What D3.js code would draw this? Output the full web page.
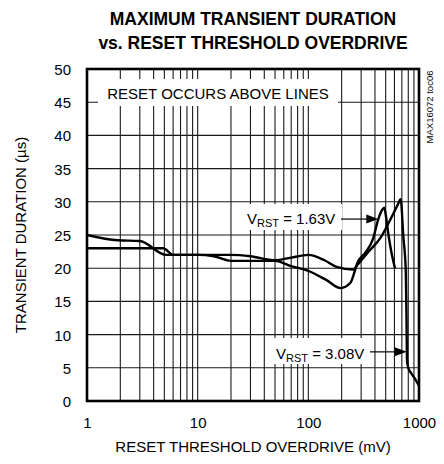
<!DOCTYPE html>
<html><head><meta charset="utf-8">
<script src="https://cdn.jsdelivr.net/npm/d3@7/dist/d3.min.js"></script>
<style>
html,body{margin:0;padding:0;background:#fff;}
text{font-family:"Liberation Sans",Arial,Helvetica,sans-serif;fill:#000;}
</style></head>
<body>
<script>
// ---- data ----
const xTickLabels = [1, 10, 100, 1000];
const yTickLabels = [0, 5, 10, 15, 20, 25, 30, 35, 40, 45, 50];

const v163_mV = [1, 1.9, 3.0, 5.2, 10, 14, 20, 30, 50, 70, 100, 146, 196, 240, 281, 330, 384, 429, 470, 486, 505, 530, 565, 607];
const v163_us = [25, 24.2, 24.1, 22, 22, 21.8, 21.1, 21.1, 21.1, 20.3, 19.6, 18.2, 17.0, 17.8, 21.0, 22.4, 24.4, 27.4, 28.9, 29.1, 27.6, 25, 22.3, 20];

const v308_mV = [1, 4.9, 6.0, 10, 20, 30, 50, 70, 100, 140, 180, 254, 281, 350, 450, 550, 640, 683, 720, 760, 772, 778, 800, 840, 900, 1000];
const v308_us = [23, 23, 22, 22, 22, 21.8, 21.2, 21.6, 22, 21.2, 20.2, 19.8, 20.6, 22.5, 24.6, 27.3, 29.5, 30.4, 25, 19.5, 12, 6.2, 5.0, 4.3, 3.6, 2.3];

// ---- layout ----
const W = 444, H = 464;
const L = 87, R = 419, T = 69, B = 401;

const svg = d3.select("body").append("svg").attr("width", W).attr("height", H);

const x = d3.scaleLog().domain([1, 1000]).range([L, R]);
const y = d3.scaleLinear().domain([0, 50]).range([B, T]);

// title
svg.append("text").attr("x", 253).attr("y", 25).attr("text-anchor", "middle")
  .style("font-weight", "bold").style("font-size", "17.5px").text("MAXIMUM TRANSIENT DURATION");
svg.append("text").attr("x", 253).attr("y", 48.5).attr("text-anchor", "middle")
  .style("font-weight", "bold").style("font-size", "17.5px").text("vs. RESET THRESHOLD OVERDRIVE");

// grid
const g = svg.append("g");
g.selectAll("line.vg").data(x.ticks()).enter().append("line")
  .attr("x1", d => x(d)).attr("x2", d => x(d)).attr("y1", T).attr("y2", B)
  .attr("stroke", "#1a1a1a").attr("stroke-width", 1.1);
g.selectAll("line.hg").data(yTickLabels).enter().append("line")
  .attr("x1", L).attr("x2", R).attr("y1", d => y(d)).attr("y2", d => y(d))
  .attr("stroke", "#1a1a1a").attr("stroke-width", 1.1);

// axes (labels only)
const xAxis = d3.axisBottom(x).tickValues(xTickLabels).tickSize(0).tickPadding(0).tickFormat(d3.format("d"));
const xa = svg.append("g").attr("transform", `translate(0,${B})`).call(xAxis);
xa.select(".domain").remove();
xa.selectAll("text").attr("y", 27).attr("dy", 0).style("font-size", "15px").style("font-family", null);

const yAxis = d3.axisLeft(y).tickValues(yTickLabels).tickSize(0).tickPadding(0).tickFormat(d3.format("d"));
const ya = svg.append("g").attr("transform", `translate(${L},0)`).call(yAxis);
ya.select(".domain").remove();
ya.selectAll("text").attr("x", -16).attr("dy", "0.36em").style("font-size", "15px").style("font-family", null);

// note box
svg.append("rect").attr("x", 98).attr("y", 79).attr("width", 240).attr("height", 27).attr("fill", "#fff");
svg.append("text").attr("x", 218).attr("y", 98.5).attr("text-anchor", "middle")
  .style("font-size", "15px").text("RESET OCCURS ABOVE LINES");

// curves
const line = d3.line().x(d => x(d[0])).y(d => y(d[1])).curve(d3.curveMonotoneX);
const s163 = v163_mV.map((v, i) => [v, v163_us[i]]);
const s308 = v308_mV.map((v, i) => [v, v308_us[i]]);
[s163, s308].forEach(s => {
  svg.append("path").attr("d", line(s)).attr("fill", "none").attr("stroke", "#000")
    .attr("stroke-width", 2.4).attr("stroke-linejoin", "round");
});

// annotations
function label(tx, ty, val, boxX, boxY, boxW, boxH, ax0, ax1, ay) {
  svg.append("rect").attr("x", boxX).attr("y", boxY).attr("width", boxW).attr("height", boxH).attr("fill", "#fff");
  const t = svg.append("text").attr("x", tx).attr("y", ty).style("font-size", "15px");
  t.append("tspan").text("V");
  t.append("tspan").attr("dy", 2.5).style("font-size", "11px").text("RST");
  t.append("tspan").attr("dy", -2.5).text(" = " + val);
  svg.append("line").attr("x1", ax0).attr("x2", ax1 - 10).attr("y1", ay).attr("y2", ay)
    .attr("stroke", "#000").attr("stroke-width", 1.2);
  svg.append("path").attr("d", `M${ax1},${ay} L${ax1 - 12},${ay - 4.5} L${ax1 - 12},${ay + 4.5} Z`).attr("fill", "#000");
}
label(247, 224, "1.63V", 244, 204, 98, 26, 341, x(429), y(27.4));
label(276, 359, "3.08V", 272, 338, 98, 26, 370, x(774), y(7.4));

// frame
svg.append("rect").attr("x", L).attr("y", T).attr("width", R - L).attr("height", B - T)
  .attr("fill", "none").attr("stroke", "#000").attr("stroke-width", 2.6);

// axis titles
svg.append("text").attr("x", 253).attr("y", 452).attr("text-anchor", "middle")
  .style("font-size", "15px").text("RESET THRESHOLD OVERDRIVE (mV)");
svg.append("text").attr("transform", "translate(26,235) rotate(-90)").attr("text-anchor", "middle")
  .style("font-size", "15px").text("TRANSIENT DURATION (µs)");

// side id
svg.append("text").attr("transform", "translate(433,107) rotate(-90)").attr("text-anchor", "middle")
  .style("font-size", "9.5px").text("MAX16072 toc06");
</script>
</body></html>
